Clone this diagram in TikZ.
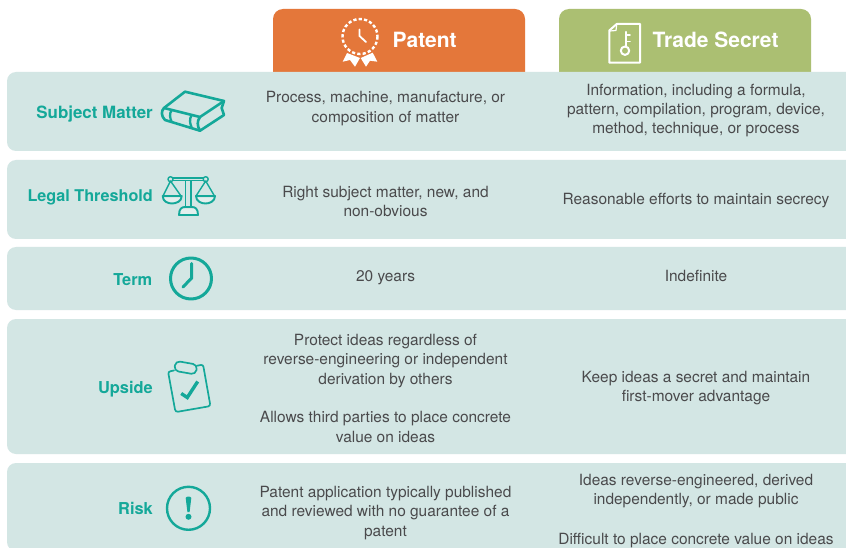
\documentclass[tikz,border=0pt]{standalone}
\usepackage{fontspec}
\setmainfont{TeX Gyre Heros}
\definecolor{band}{HTML}{D3E6E4}
\definecolor{teal}{HTML}{14A899}
\definecolor{txt}{HTML}{4A4A4C}
\definecolor{orangehd}{HTML}{E4773A}
\definecolor{greenhd}{HTML}{ABBF72}
\tikzset{
  x=1pt,y=-1pt,
  bandbox/.style={fill=band,draw=none,rounded corners=9pt},
  headbox/.style={draw=none,rounded corners=10pt},
  headtext/.style={text=white,font=\fontsize{21}{24}\selectfont\bfseries,anchor=west,inner sep=0pt},
  rowlabel/.style={text=teal,font=\fontsize{16.4}{18}\selectfont\bfseries,anchor=east,inner sep=0pt},
  cell/.style={text=txt,font=\fontsize{15.45}{19.3}\selectfont,align=center,inner sep=0pt},
  iconline/.style={draw=teal,line width=2pt,line cap=round,line join=round},
  iconthin/.style={draw=teal,line width=1.4pt,line cap=round,line join=round},
  whiteline/.style={draw=white,line width=2pt,line cap=round,line join=round},
}
\begin{document}
\begin{tikzpicture}
\useasboundingbox (0,0) rectangle (846,548);
\fill[white] (0,0) rectangle (846,548);
% headers
\begin{scope}
\clip (0,0) rectangle (846,73);
\fill[headbox,orangehd] (273,9) rectangle (525,90);
\fill[headbox,greenhd] (559,9) rectangle (811,90);
\end{scope}
% bands
\begin{scope}
\clip (0,0) rectangle (846,548);
\fill[bandbox] (7,72) rectangle (860,151);
\fill[bandbox] (7,160) rectangle (860,239);
\fill[bandbox] (7,247) rectangle (860,310);
\fill[bandbox] (7,319) rectangle (860,454);
\fill[bandbox] (7,463) rectangle (860,551);
\end{scope}
% header text
\node[headtext] (hp) at (392.5,40) {Patent};
\node[headtext] (ht) at (652.5,40) {Trade Secret};
% patent icon
\draw[draw=white,line width=2.4pt,dash pattern=on 3.2pt off 2.2pt] (360,36.5) circle (17.5);
\draw[whiteline,line width=1.8pt] (359.5,29.5) -- (359.5,36) -- (366,42);
\fill[white] (342.7,61.7) -- (347,53) -- (360,58) -- (355,66.7) -- (350,60) -- cycle;
\fill[white] (360.7,58) -- (372.7,52.7) -- (377.3,61.7) -- (370,60.7) -- (366,66.7) -- cycle;
% trade secret icon
\draw[whiteline,line width=2pt] (609.3,30.5) -- (616.7,24) -- (640,24) -- (640,62.7) -- (609.3,62.7) -- cycle;
\draw[whiteline,line width=1.2pt] (609.8,31) -- (616,30.5) -- (616.7,24.5);
\draw[whiteline,line width=2.4pt] (626,32) -- (626,46.5);
\draw[whiteline,line width=1.9pt] (626,35) -- (630,35) (626,41.5) -- (630,41.5);
\draw[whiteline,line width=2pt] (625,50.7) circle (4.2);
% row labels
\node[rowlabel,font=\fontsize{16.9}{18}\selectfont\bfseries] (l1) at (153,114.5) {Subject Matter};
\node[rowlabel,font=\fontsize{16.2}{18}\selectfont\bfseries] (l2) at (153,197.5) {Legal Threshold};
\node[rowlabel] (l3) at (152.5,280) {Term};
\node[rowlabel] (l4) at (153,389) {Upside};
\node[rowlabel] (l5) at (153,508.5) {Risk};
% book icon
\draw[iconline,line width=2.6pt] (164,108) -- (185,91.7) -- (224,101) -- (221.7,108) -- (224,115) -- (200,130.7) -- (165,120) .. controls (161,116) and (161,111) .. (164,108) -- cycle;
\draw[iconline,line width=2.6pt] (164,108) -- (200,117) -- (224,101);
\draw[iconline,line width=2.6pt] (200,117) .. controls (197,121) and (197,126) .. (200,130.7);
\draw[iconline,line width=2.3pt] (171.7,110) .. controls (169,114) and (170,118) .. (171.7,122);
\draw[iconline,line width=2.3pt] (191.7,115) .. controls (189,119) and (190,124) .. (191.7,127.5);
% scales icon
\draw[iconline,line width=1.8pt] (170,178) -- (206,178) (170,180.5) -- (206,180.5);
\draw[iconthin,fill=band] (170.5,179.2) circle (2.5) (205.7,179.2) circle (2.5);
\draw[iconline,line width=1.8pt] (185.5,181) -- (185.5,207) (191,181) -- (191,207);
\fill[band!65!white] (181,209) rectangle (197,214);
\draw[iconline,line width=1.9pt] (179,215) .. controls (179,208.5) and (182,207) .. (185,207) -- (192,207) .. controls (195,207) and (198,208.5) .. (198,215) -- cycle;
\draw[iconthin] (170.5,181) -- (163,196) (170.5,181) -- (181,196);
\draw[iconthin] (205.7,181) -- (196,196) (205.7,181) -- (214.5,196);
\fill[band!65!white] (164,198) -- (180,198) .. controls (178,201) and (175,202.5) .. (172,202.5) .. controls (169,202.5) and (166,201) .. (164,198) -- cycle;
\fill[band!65!white] (197,198) -- (213.5,198) .. controls (211,201) and (208,202.5) .. (205,202.5) .. controls (202,202.5) and (199,201) .. (197,198) -- cycle;
\draw[iconline,line width=1.9pt] (162.7,196) -- (181.7,196) .. controls (181.7,201.5) and (176,203.5) .. (172,203.5) .. controls (168,203.5) and (162.7,201.5) .. (162.7,196) -- cycle;
\draw[iconline,line width=1.9pt] (196,196) -- (215,196) .. controls (215,201.5) and (209.5,203.5) .. (205.5,203.5) .. controls (201.5,203.5) and (196,201.5) .. (196,196) -- cycle;
% clock icon
\draw[iconline,line width=3pt] (191,278.5) circle (20.5);
\draw[iconline,line width=3pt] (191.7,263.5) -- (191.7,278) -- (183,287);
% clipboard icon
\draw[iconline,line width=1.7pt] (174,370.5) -- (170.5,371.2) .. controls (169,371.5) and (168.2,372.5) .. (168.5,374) -- (175,409.5) .. controls (175.3,411) and (176.5,412) .. (178,411.7) -- (208,406.5) .. controls (209.5,406.2) and (210.3,405) .. (210,403.5) -- (203.5,367) .. controls (203.2,365.5) and (202.3,364.8) .. (201,365) -- (197,365.7);
\draw[iconline,line width=1.7pt,rounded corners=4.5pt,rotate around={-10:(185.7,367.7)}] (174.7,362.7) rectangle (196.7,372.7);
\draw[iconline,line width=3.4pt,line cap=butt,line join=miter] (181.2,393.5) -- (187.3,397.5) -- (197.7,381.5);
% exclamation icon
\draw[iconline,line width=2.4pt] (188.5,508.3) circle (21.5);
\fill[teal] (185.7,498) .. controls (185.7,496.8) and (187.3,496.6) .. (188.5,496.6) .. controls (189.7,496.6) and (191.3,496.8) .. (191.3,498) -- (189.6,512) -- (187.4,512) -- cycle;
\fill[teal] (188.5,516.8) circle (3);
% cells
\node[cell] (c11) at (385.5,108.5) {Process, machine, manufacture, or\\composition of matter};
\node[cell] (c12) at (696,110.7) {Information, including a formula,\\pattern, compilation, program, device,\\method, technique, or process};
\node[cell] (c21) at (385.5,201.5) {Right subject matter, new, and\\non-obvious};
\node[cell] (c22) at (696,201) {Reasonable efforts to maintain secrecy};
\node[cell] (c31) at (385.5,277.5) {20 years};
\node[cell] (c32) at (696,276) {Indefinite};
\node[cell] (c41) at (385.5,361) {Protect ideas regardless of\\reverse-engineering or independent\\derivation by others};
\node[cell] (c42) at (385.5,427) {Allows third parties to place concrete\\value on ideas};
\node[cell] (c43) at (696,388) {Keep ideas a secret and maintain\\first-mover advantage};
\node[cell] (c51) at (385.5,513) {Patent application typically published\\and reviewed with no guarantee of a\\patent};
\node[cell] (c52) at (696,491.3) {Ideas reverse-engineered, derived\\independently, or made public};
\node[cell] (c53) at (696,541) {Difficult to place concrete value on ideas};
\end{tikzpicture}
\end{document}
